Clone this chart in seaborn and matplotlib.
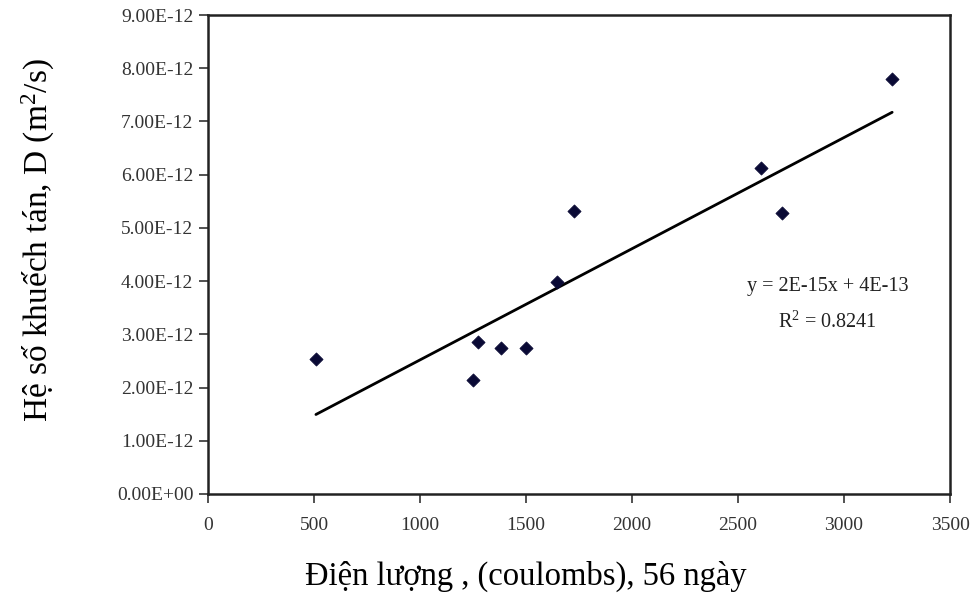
import numpy as np
import pandas as pd
import matplotlib
matplotlib.use("Agg")
import matplotlib.pyplot as plt
import seaborn as sns

# Charge passed (coulombs, 56 days) vs. diffusion coefficient (m^2/s)
charge = [509, 1248, 1272, 1380, 1498, 1644, 1724, 2609, 2708, 3227]
diffusion = [2.54e-12, 2.14e-12, 2.86e-12, 2.74e-12, 2.74e-12,
             3.98e-12, 5.32e-12, 6.13e-12, 5.28e-12, 7.80e-12]

x_ticks = [0, 500, 1000, 1500, 2000, 2500, 3000, 3500]
y_ticks = [i * 1e-12 for i in range(10)]
y_tick_labels = ["0.00E+00"] + [f"{i}.00E-12" for i in range(1, 10)]

equation_text = "y = 2E-15x + 4E-13"
r2_text = "R$^{2}$ = 0.8241"

df = pd.DataFrame({"charge": charge, "diffusion": diffusion})

sns.set_theme(style="white")
plt.rcParams["font.family"] = ["Liberation Serif", "DejaVu Serif"]
plt.rcParams["mathtext.fontset"] = "custom"
plt.rcParams["mathtext.rm"] = "Liberation Serif"
plt.rcParams["mathtext.it"] = "Liberation Serif:italic"

fig = plt.figure(figsize=(9.77, 5.94), dpi=100)
ax = fig.add_axes([0.2129, 0.1684, 0.7595, 0.8063])

sns.regplot(data=df, x="charge", y="diffusion", ax=ax, ci=None, truncate=True,
            scatter=False, line_kws=dict(color="black", lw=2.0))
sns.scatterplot(data=df, x="charge", y="diffusion", ax=ax, marker="D",
                s=45, color="#0a0a35", edgecolor="#0a0a35", zorder=3)

ax.set_xlim(0, 3500)
ax.set_ylim(0, 9e-12)
ax.set_xticks(x_ticks)
ax.set_xticklabels([str(t) for t in x_ticks])
ax.set_yticks(y_ticks)
ax.set_yticklabels(y_tick_labels)
ax.tick_params(axis="both", which="major", direction="out", length=6.5, width=1.2,
               color="#333333", labelsize=14, labelcolor="#333333",
               bottom=True, left=True)
ax.tick_params(axis="x", pad=10)
ax.tick_params(axis="y", pad=4)

for side in ["top", "right", "bottom", "left"]:
    ax.spines[side].set_visible(True)
    ax.spines[side].set_color("#222222")
    ax.spines[side].set_linewidth(1.8)

ax.set_xlabel("")
ax.set_ylabel("")
fig.text(526 / 977, 1 - 585 / 594, "Điện lượng , (coulombs), 56 ngày",
         fontsize=23.5, color="black", ha="center", va="baseline")
fig.text(38 / 977, 1 - 240 / 594, "Hệ số khuếch tán, D (m$^{2}$/s)",
         fontsize=24, color="black", ha="center", va="center", rotation=90)

ax.text(2923, 3.89e-12, equation_text, fontsize=14.5, color="#222222", ha="center", va="center")
ax.text(2923, 3.23e-12, r2_text, fontsize=14.5, color="#222222", ha="center", va="center")

fig.savefig("out.png", dpi=100)
